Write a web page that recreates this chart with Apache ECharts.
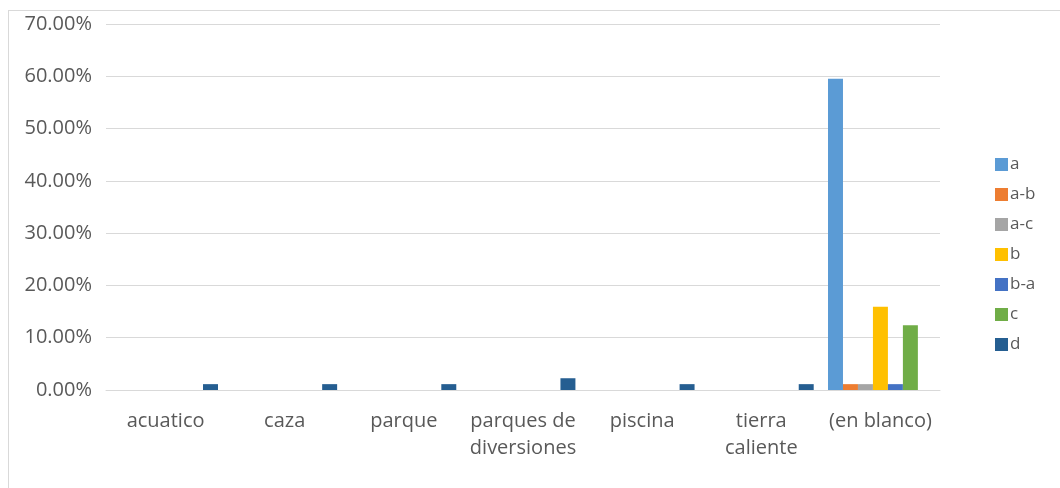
<!DOCTYPE html>
<html><head><meta charset="utf-8">
<script src="https://cdn.jsdelivr.net/npm/echarts@6/dist/echarts.min.js"></script>
<style>
html,body{margin:0;padding:0;background:#fff;}
#frame{position:absolute;left:8px;top:10px;width:1060px;height:490px;border:1px solid #d9d9d9;box-sizing:border-box;}
#chart{position:absolute;left:0;top:0;width:1060px;height:488px;}
</style></head>
<body>
<div id="frame"></div>
<div id="chart"></div>
<script>
const categories = ['acuatico','caza','parque','parques de\ndiversiones','piscina','tierra\ncaliente','(en blanco)'];
const seriesNames = ['a','a-b','a-c','b','b-a','c','d'];
const colors = ['#5B9BD5','#ED7D31','#A5A5A5','#FFC000','#4472C4','#70AD47','#255E91'];
const valA  = [null,null,null,null,null,null,59.55];
const valAB = [null,null,null,null,null,null,1.12];
const valAC = [null,null,null,null,null,null,1.12];
const valB  = [null,null,null,null,null,null,15.9];
const valBA = [null,null,null,null,null,null,1.12];
const valC  = [null,null,null,null,null,null,12.4];
const valD  = [1.12,1.12,1.12,2.25,1.12,1.12,null];
const allVals = [valA,valAB,valAC,valB,valBA,valC,valD];
const yTicks = {min:0,max:70,interval:10};

const chart = echarts.init(document.getElementById('chart'));
const font = "'Open Sans', 'Liberation Sans', sans-serif";
chart.setOption({
  animation:false,
  textStyle:{fontFamily:font},
  grid:{left:106,right:120,top:24,bottom:98},
  legend:{
    orient:'vertical',left:990,top:151,
    itemWidth:13,itemHeight:13,itemGap:13,
    icon:'rect',
    textStyle:{color:'#595959',fontSize:17,fontFamily:font,padding:[0,0,0,-3]},
    data:seriesNames
  },
  xAxis:{
    type:'category',data:categories,
    axisLine:{lineStyle:{color:'#d9d9d9',width:1}},
    axisTick:{show:false},
    axisLabel:{color:'#595959',fontSize:20,fontFamily:font,margin:18,lineHeight:27,interval:0}
  },
  yAxis:{
    type:'value',min:yTicks.min,max:yTicks.max,interval:yTicks.interval,
    axisLine:{show:false},axisTick:{show:false},
    splitLine:{lineStyle:{color:'#d9d9d9',width:1}},
    axisLabel:{color:'#595959',fontSize:20,fontFamily:font,margin:14,formatter:v=>v.toFixed(2)+'%'}
  },
  series:seriesNames.map((n,i)=>({
    name:n,type:'bar',data:allVals[i],
    itemStyle:{color:colors[i]},
    barGap:'0%',barCategoryGap:'12%'
  }))
});
</script>
</body></html>
